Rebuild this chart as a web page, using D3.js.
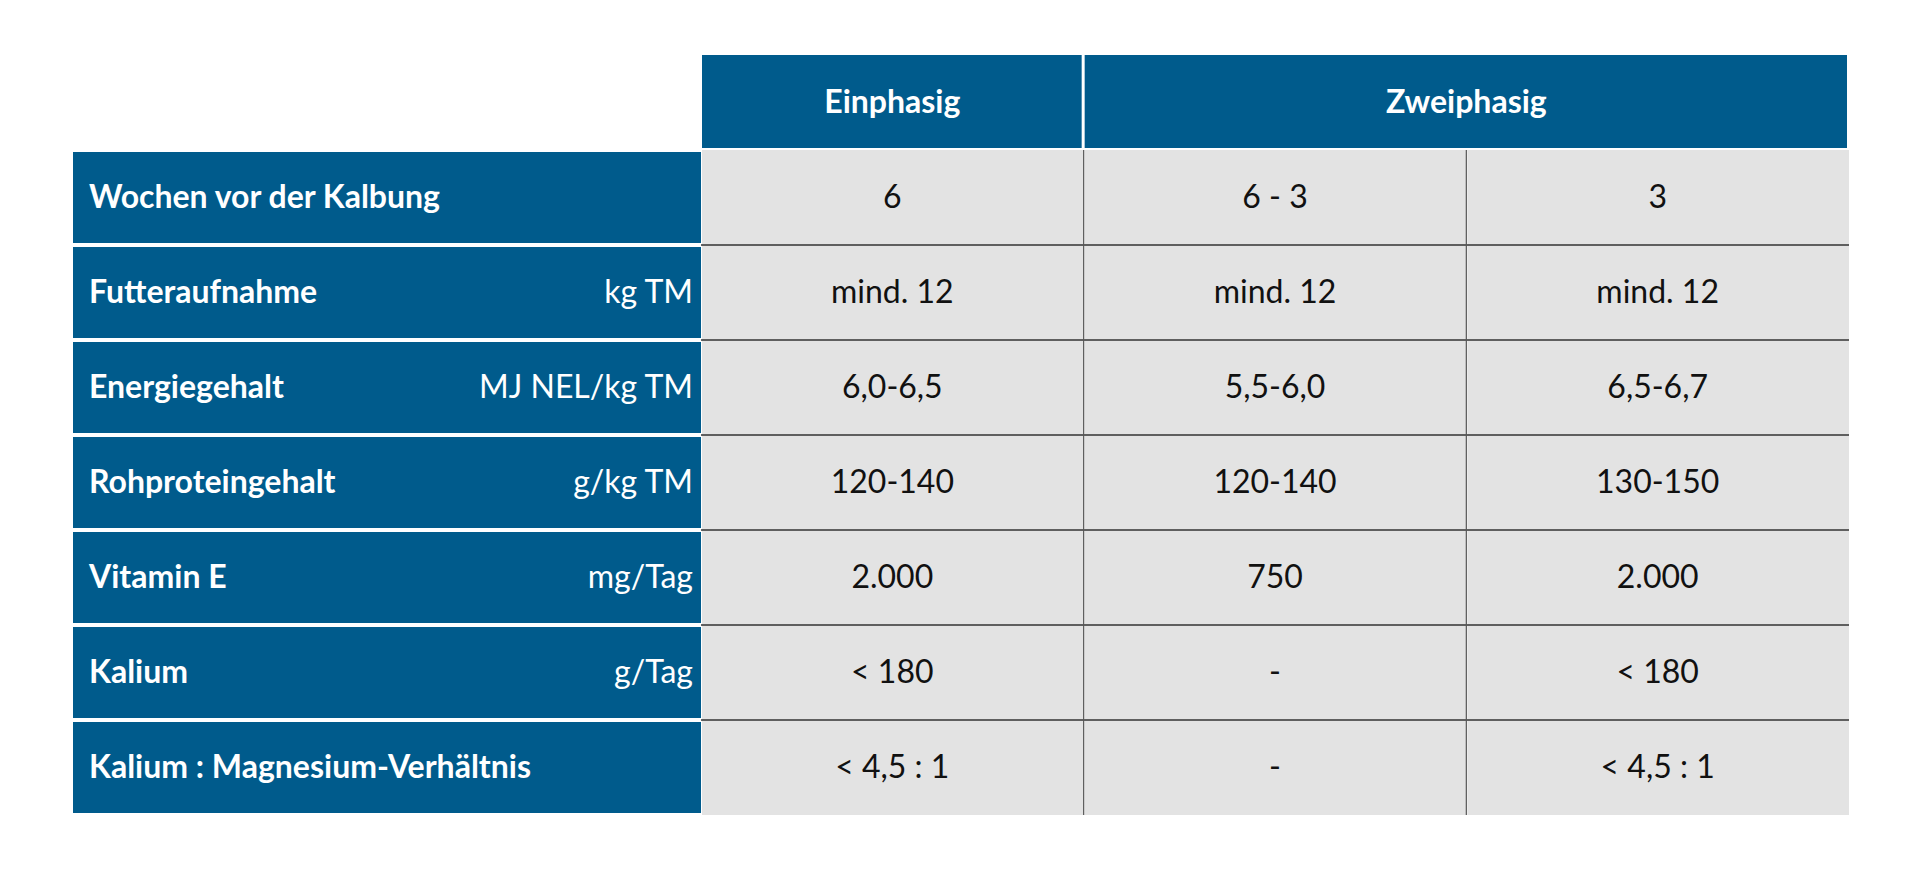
<!DOCTYPE html>
<html><head><meta charset="utf-8">
<script src="https://cdn.jsdelivr.net/npm/d3@7"></script>
<style>body{margin:0;background:#fff}svg{display:block}</style>
</head><body>
<svg id="chart" width="1920" height="870"></svg>
<script>
// data
const groups = [{name: "Einphasig", span: 1}, {name: "Zweiphasig", span: 2}];
const rowLabels = ["Wochen vor der Kalbung", "Futteraufnahme", "Energiegehalt", "Rohproteingehalt", "Vitamin E", "Kalium", "Kalium : Magnesium-Verhältnis"];
const units = ["", "kg TM", "MJ NEL/kg TM", "g/kg TM", "mg/Tag", "g/Tag", ""];
const einphasig = ["6", "mind. 12", "6,0-6,5", "120-140", "2.000", "< 180", "< 4,5 : 1"];
const zweiphasig1 = ["6 - 3", "mind. 12", "5,5-6,0", "120-140", "750", "-", "-"];
const zweiphasig2 = ["3", "mind. 12", "6,5-6,7", "130-150", "2.000", "< 180", "< 4,5 : 1"];

const blue = "#005b8c", gray = "#e3e3e3";
const font = "Lato, 'Open Sans', sans-serif";
const svg = d3.select("#chart");

const left = 73, labelRight = 701, right = 1849;
const headTop = 55, headBottom = 150, bottom = 815;

const x = d3.scaleLinear().domain([0, 3]).range([labelRight, right]);
const y = d3.scaleBand().domain(d3.range(rowLabels.length)).range([headBottom, bottom]);

// header
let col = 0;
groups.forEach(g => {
  const x0 = x(col), x1 = x(col + g.span);
  svg.append("rect").attr("x", x0 + 1).attr("y", headTop).attr("width", x1 - x0 - 3)
    .attr("height", headBottom - headTop - 2).attr("fill", blue);
  svg.append("text").attr("x", (x0 + x1) / 2).attr("y", (headTop + headBottom) / 2 + 2)
    .attr("text-anchor", "middle").attr("dominant-baseline", "middle")
    .attr("font-family", font).attr("font-weight", "bold").attr("font-size", 32)
    .attr("fill", "#fff").text(g.name);
  col += g.span;
});

const cols = [einphasig, zweiphasig1, zweiphasig2];

rowLabels.forEach((lab, i) => {
  const y0 = y(i), h = y.bandwidth();
  svg.append("rect").attr("x", left).attr("y", y0 + 2).attr("width", labelRight - left)
    .attr("height", h - 4).attr("fill", blue);
  svg.append("text").attr("x", left + 16).attr("y", y0 + h / 2 + 2)
    .attr("dominant-baseline", "middle").attr("font-family", font).attr("font-weight", "bold")
    .attr("font-size", 32).attr("fill", "#fff").text(lab);
  if (units[i]) svg.append("text").attr("x", labelRight - 8).attr("y", y0 + h / 2 + 2)
    .attr("text-anchor", "end").attr("dominant-baseline", "middle").attr("font-family", font)
    .attr("font-size", 32).attr("fill", "#fff").text(units[i]);

  cols.forEach((c, j) => {
    svg.append("rect").attr("x", x(j) + 1).attr("y", y0).attr("width", x(j + 1) - x(j) - 1)
      .attr("height", h).attr("fill", gray);
    svg.append("text").attr("x", (x(j) + x(j + 1)) / 2).attr("y", y0 + h / 2 + 2)
      .attr("text-anchor", "middle").attr("dominant-baseline", "middle").attr("font-family", font)
      .attr("font-size", 32).attr("fill", "#111").text(c[i]);
  });
});

// grid lines in value area
d3.range(1, rowLabels.length).forEach(i => {
  svg.append("line").attr("x1", labelRight).attr("x2", right).attr("y1", y(i)).attr("y2", y(i))
    .attr("stroke", "#333").attr("stroke-width", 1.5);
});
[1, 2].forEach(j => {
  svg.append("line").attr("x1", x(j)).attr("x2", x(j)).attr("y1", headBottom).attr("y2", bottom)
    .attr("stroke", "#555").attr("stroke-width", 1.2);
});
</script>
</body></html>
